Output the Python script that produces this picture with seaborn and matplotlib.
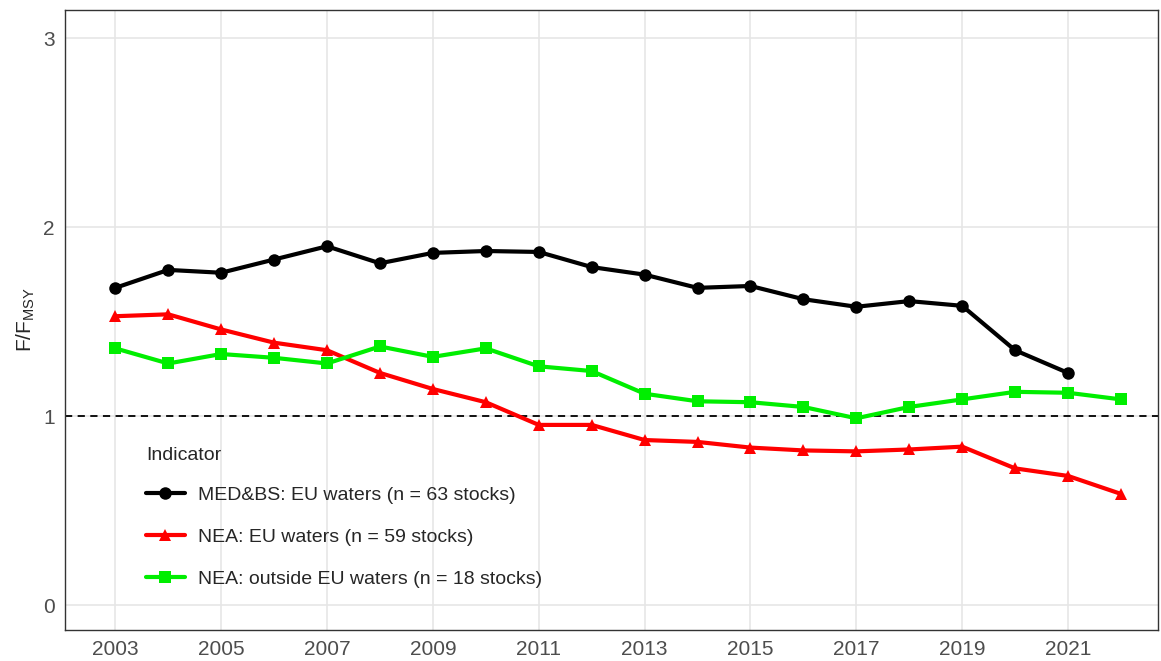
import numpy as np
import pandas as pd
import matplotlib.pyplot as plt
import seaborn as sns

years = list(range(2003, 2023))
med_bs = [1.68, 1.775, 1.76, 1.83, 1.90, 1.81, 1.865, 1.875, 1.87, 1.79,
          1.75, 1.68, 1.69, 1.62, 1.58, 1.61, 1.585, 1.35, 1.23]
nea_eu = [1.53, 1.54, 1.46, 1.39, 1.35, 1.23, 1.145, 1.075, 0.955, 0.955,
          0.875, 0.865, 0.835, 0.82, 0.815, 0.825, 0.84, 0.725, 0.685, 0.59]
nea_out = [1.36, 1.28, 1.33, 1.31, 1.28, 1.37, 1.315, 1.36, 1.265, 1.24,
           1.12, 1.08, 1.075, 1.05, 0.99, 1.05, 1.09, 1.13, 1.125, 1.09]
labels = ["MED&BS: EU waters (n = 63 stocks)",
          "NEA: EU waters (n = 59 stocks)",
          "NEA: outside EU waters (n = 18 stocks)"]

df = pd.concat([
    pd.DataFrame({"year": years[:len(med_bs)], "value": med_bs, "Indicator": labels[0]}),
    pd.DataFrame({"year": years, "value": nea_eu, "Indicator": labels[1]}),
    pd.DataFrame({"year": years, "value": nea_out, "Indicator": labels[2]}),
])

sns.set_style("white")
plt.rcParams['font.family'] = ['Liberation Sans', 'DejaVu Sans']
fig = plt.figure(figsize=(11.61, 6.61), dpi=100)
ax = fig.add_axes([65/1161, 31/661, 1093/1161, 620/661])

sns.lineplot(data=df, x="year", y="value", hue="Indicator", style="Indicator",
             palette=["black", "#ff0000", "#00ee00"], markers=["o", "^", "s"],
             dashes=False, linewidth=3, markersize=9, markeredgewidth=0, ax=ax)

ax.axhline(1, color="black", linestyle=(0, (4, 3)), linewidth=1.3, zorder=1)
ax.set_xlim(2002.05, 2022.7)
ax.set_ylim(-0.13, 3.15)
ax.set_xticks(range(2003, 2022, 2))
ax.set_yticks([0, 1, 2, 3])
ax.grid(True, color="#e6e6e6", linewidth=1.2)
ax.set_axisbelow(True)
for s in ax.spines.values():
    s.set_color("#333333")
    s.set_linewidth(1)
ax.tick_params(axis="both", length=4, color="#333333",
               labelsize=15, labelcolor="#4d4d4d")
ax.set_xlabel("")
ax.set_ylabel("F/F$_{\\mathregular{MSY}}$", fontsize=15)

leg = ax.legend(title="Indicator", loc="lower left", bbox_to_anchor=(0.058, 0.04),
                frameon=False, fontsize=14, title_fontsize=14,
                labelspacing=1.25, handlelength=2.0, handletextpad=0.7)
leg._legend_box.align = "left"
leg._legend_box.sep = 16

fig.savefig("out.png", dpi=100)
